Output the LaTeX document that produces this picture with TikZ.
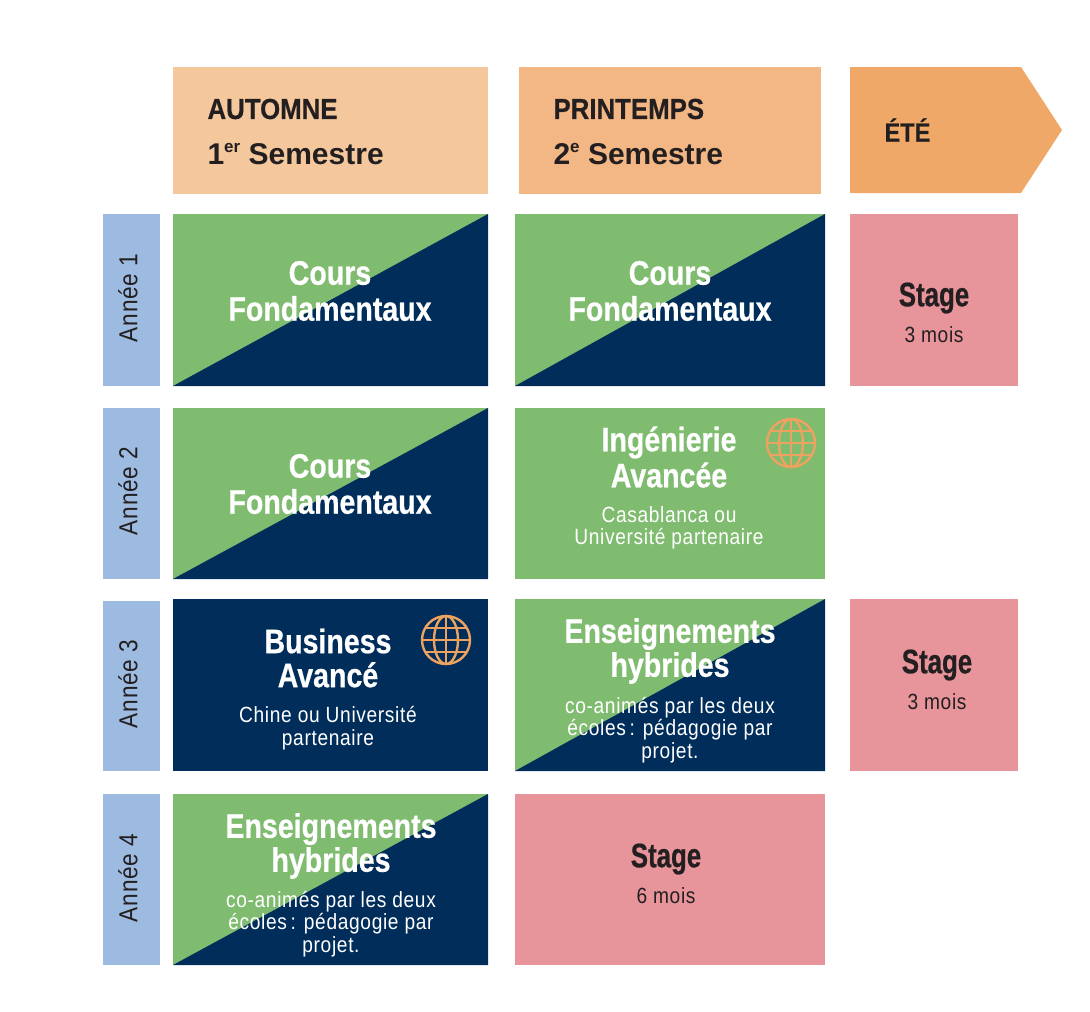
\documentclass[tikz,border=0pt]{standalone}
\usepackage{fontspec}
\setmainfont{Liberation Sans}
\newfontfamily\titrefont[FakeStretch=0.84,BoldFeatures={FakeBold=0.6}]{Liberation Sans}
\newfontfamily\stagefont[FakeStretch=0.76,BoldFeatures={FakeBold=0.6}]{Liberation Sans}
\newfontfamily\narrowfont[FakeStretch=0.87,LetterSpace=3]{Liberation Sans}
\newfontfamily\headfont[FakeStretch=0.89,BoldFeatures={FakeBold=0.4}]{Liberation Sans}
\usetikzlibrary{positioning}
\definecolor{peachA}{HTML}{F4C79D}
\definecolor{peachB}{HTML}{F2B784}
\definecolor{peachC}{HTML}{EFA868}
\definecolor{vert}{HTML}{80BC70}
\definecolor{marine}{HTML}{002D5A}
\definecolor{rose}{HTML}{E7949B}
\definecolor{bleu}{HTML}{9DBBE0}
\definecolor{encre}{HTML}{231F20}
\definecolor{globe}{HTML}{EDA35F}
\tikzset{
  titre/.style={font=\titrefont\fontsize{34}{36}\bfseries\selectfont, text=white, align=center},
  sous/.style={font=\narrowfont\fontsize{22}{22.5}\selectfont, text=white, align=center},
  stage/.style={font=\stagefont\fontsize{34}{36}\bfseries\selectfont, text=encre},
  mois/.style={font=\narrowfont\fontsize{22}{23}\selectfont, text=encre},
  annee/.style={font=\narrowfont\fontsize{26}{28}\selectfont, text=encre, rotate=90},
  saison/.style={font=\headfont\fontsize{29}{30}\bfseries\selectfont, text=encre, anchor=west},
  semestre/.style={font=\fontsize{30}{30}\bfseries\selectfont, text=encre, anchor=west},
}
% case en deux triangles: coin haut gauche, coin bas droit
\newcommand{\casemixte}[2]{
  \fill[vert] (#1) rectangle (#2);
  \fill[marine] (#1 |- #2) -- (#2 |- #1) -- (#2) -- cycle;
}
% globe: centre seulement
\newcommand{\globeicon}[1]{
  \begin{scope}[shift={(#1)}, draw=globe, line width=2.4pt]
    \draw (0,0) circle (24);
    \draw (0,0) ellipse (12 and 24);
    \draw (0,-24) -- (0,24);
    \draw (-24,0) -- (24,0);
    \draw (-20.5,-12) -- (20.5,-12);
    \draw (-20.5,12) -- (20.5,12);
  \end{scope}
}
\begin{document}
\begin{tikzpicture}[x=1pt, y=-1pt]
  \useasboundingbox (0,0) rectangle (1090,1012);

  % En-tetes
  \fill[peachA] (173,67) rectangle (488,194);
  \fill[peachB] (519,67) rectangle (821,194);
  \fill[peachC] (850,67) -- (1021,67) -- (1062,130) -- (1021,193) -- (850,193) -- cycle;
  \node[saison] (automne) at (204,109) {AUTOMNE};
  \node[semestre] (semA) at (204,154) {1\raisebox{0.42em}{\fontsize{17}{18}\selectfont er} Semestre};
  \node[saison] (printemps) at (550,109) {PRINTEMPS};
  \node[semestre] (semB) at (550,154) {2\raisebox{0.42em}{\fontsize{17}{18}\selectfont e} Semestre};
  \node[saison, font=\headfont\fontsize{26.5}{30}\bfseries\selectfont] (ete) at (881,130) {ÉTÉ};

  % Annees
  \fill[bleu] (103,214) rectangle (160,386);
  \fill[bleu] (103,408) rectangle (160,579);
  \fill[bleu] (103,601) rectangle (160,771);
  \fill[bleu] (103,794) rectangle (160,965);
  \node[annee] (an1) at (128,298) {Année 1};
  \node[annee] (an2) at (128,491) {Année 2};
  \node[annee] (an3) at (128,684) {Année 3};
  \node[annee] (an4) at (128,878) {Année 4};

  % Annee 1
  \casemixte{173,214}{488,386}
  \casemixte{515,214}{825,386}
  \fill[rose] (850,214) rectangle (1018,386);
  \node[titre] (coursA) at (330,291) {Cours\\Fondamentaux};
  \node[titre] (coursB) at (670,291) {Cours\\Fondamentaux};
  \node[stage] (stageA) at (934,298) {Stage};
  \node[mois] (moisA) at (934,335) {3 mois};

  % Annee 2
  \casemixte{173,408}{488,579}
  \fill[vert] (515,408) rectangle (825,579);
  \node[titre] (coursC) at (330,484) {Cours\\Fondamentaux};
  \node[titre] (inge) at (669,457) {Ingénierie\\Avancée};
  \node[sous] (casa) at (669,528) {Casablanca ou\\Université partenaire};
  \globeicon{791,443}

  % Annee 3
  \fill[marine] (173,599) rectangle (488,771);
  \casemixte{515,599}{825,771}
  \fill[rose] (850,599) rectangle (1018,771);
  \node[titre] (business) at (328,658) {Business\\[-2pt]Avancé};
  \node[sous] (chine) at (328,728) {Chine ou Université\\partenaire};
  \globeicon{446,640}
  \node[titre] (hybA) at (670,651) {Enseignements\\[-2pt]hybrides};
  \node[sous] (coA) at (670,730) {co-animés par les deux\\écoles\,: pédagogie par\\projet.};
  \node[stage] (stageB) at (937,665) {Stage};
  \node[mois] (moisB) at (937,702) {3 mois};

  % Annee 4
  \casemixte{173,794}{488,965}
  \fill[rose] (515,794) rectangle (825,965);
  \node[titre] (hybB) at (331,846) {Enseignements\\[-2pt]hybrides};
  \node[sous] (coB) at (331,924) {co-animés par les deux\\écoles\,: pédagogie par\\projet.};
  \node[stage] (stageC) at (666,859) {Stage};
  \node[mois] (moisC) at (666,896) {6 mois};
\end{tikzpicture}
\end{document}
